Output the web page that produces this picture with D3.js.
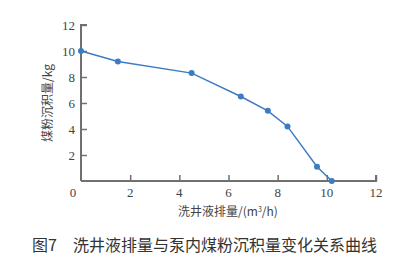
<!DOCTYPE html>
<html lang="zh">
<head>
<meta charset="UTF-8" />
<title>洗井液排量与泵内煤粉沉积量</title>
<script src="https://d3js.org/d3.v7.min.js"></script>
<style>
  body { margin: 0; background: #fff; }
</style>
</head>
<body>
<div id="chart"></div>
<script>
var w = 409;
var h = 264;

var flowRate = [0, 1.5, 4.5, 6.5, 7.6, 8.4, 9.6, 10.2];
var coalDeposit = [10, 9.2, 8.3, 6.5, 5.4, 4.2, 1.1, 0];
var xTicks = [2, 4, 6, 8, 10, 12];
var yTicks = [2, 4, 6, 8, 10, 12];

var dataset = flowRate.map(function (x, i) { return { x: x, y: coalDeposit[i] }; });

var svg = d3.select("#chart").append("svg")
    .attr("width", w)
    .attr("height", h);

var xScale = d3.scaleLinear().domain([0, 12]).range([81, 376]);
var yScale = d3.scaleLinear().domain([0, 12]).range([181, 25]);

var axisColor = "#707070";
var numFont = "'Liberation Serif', 'DejaVu Serif', serif";
var cjkFont = "'Noto Sans CJK SC', sans-serif";

// axes with inward ticks
var xAxis = d3.axisTop(xScale).tickValues(xTicks).tickSize(6).tickFormat("");
var yAxis = d3.axisRight(yScale).tickValues(yTicks).tickSize(6).tickFormat("");

var gx = svg.append("g").attr("transform", "translate(0," + yScale(0) + ")").call(xAxis);
var gy = svg.append("g").attr("transform", "translate(" + xScale(0) + ",0)").call(yAxis);
[gx, gy].forEach(function (g) {
    g.select(".domain").attr("stroke", axisColor).attr("stroke-width", 2);
    g.selectAll(".tick line").attr("stroke", axisColor).attr("stroke-width", 1.5);
});
gx.select(".domain").attr("d", "M" + xScale(0) + ",0H" + xScale(12) + "V-6");
gy.select(".domain").attr("d", "M6," + yScale(12) + "H0V" + yScale(0));

// tick labels
svg.selectAll(".xlab").data(xTicks).enter().append("text")
    .attr("x", function (d) { return xScale(d); })
    .attr("y", yScale(0) + 16)
    .attr("text-anchor", "middle")
    .style("font-family", numFont).style("font-size", "13px").style("fill", "#444")
    .text(function (d) { return d; });

svg.selectAll(".ylab").data(yTicks).enter().append("text")
    .attr("x", xScale(0) - 6)
    .attr("y", function (d) { return yScale(d) + 4.5; })
    .attr("text-anchor", "end")
    .style("font-family", numFont).style("font-size", "13px").style("fill", "#444")
    .text(function (d) { return d; });

svg.append("text")
    .attr("x", xScale(0) - 8).attr("y", yScale(0) + 16)
    .attr("text-anchor", "middle")
    .style("font-family", numFont).style("font-size", "13px").style("fill", "#444")
    .text("0");

// axis titles
var xt = svg.append("text")
    .attr("x", 228).attr("y", 216)
    .attr("text-anchor", "middle")
    .style("font-family", cjkFont).style("font-size", "12px").style("fill", "#444");
xt.append("tspan").text("洗井液排量/(m");
xt.append("tspan").attr("dy", -4).style("font-size", "7px").text("3");
xt.append("tspan").attr("dy", 4).text("/h)");

svg.append("text")
    .attr("transform", "translate(52,103) rotate(-90)")
    .attr("text-anchor", "middle")
    .style("font-family", cjkFont).style("font-size", "12px").style("fill", "#444")
    .text("煤粉沉积量/kg");

// data line
var line = d3.line()
    .x(function (d) { return xScale(d.x); })
    .y(function (d) { return yScale(d.y); });

svg.append("path")
    .datum(dataset)
    .attr("fill", "none")
    .attr("stroke", "#3d7cc0")
    .attr("stroke-width", 1.5)
    .attr("d", line);

svg.selectAll("circle").data(dataset).enter().append("circle")
    .attr("cx", function (d) { return xScale(d.x); })
    .attr("cy", function (d) { return yScale(d.y); })
    .attr("r", 3)
    .attr("fill", "#3d7cc0");

// caption
svg.append("text")
    .attr("x", 32).attr("y", 251)
    .style("font-family", cjkFont).style("font-size", "16px").style("fill", "#333")
    .text("图7\u3000洗井液排量与泵内煤粉沉积量变化关系曲线");
</script>
</body>
</html>
